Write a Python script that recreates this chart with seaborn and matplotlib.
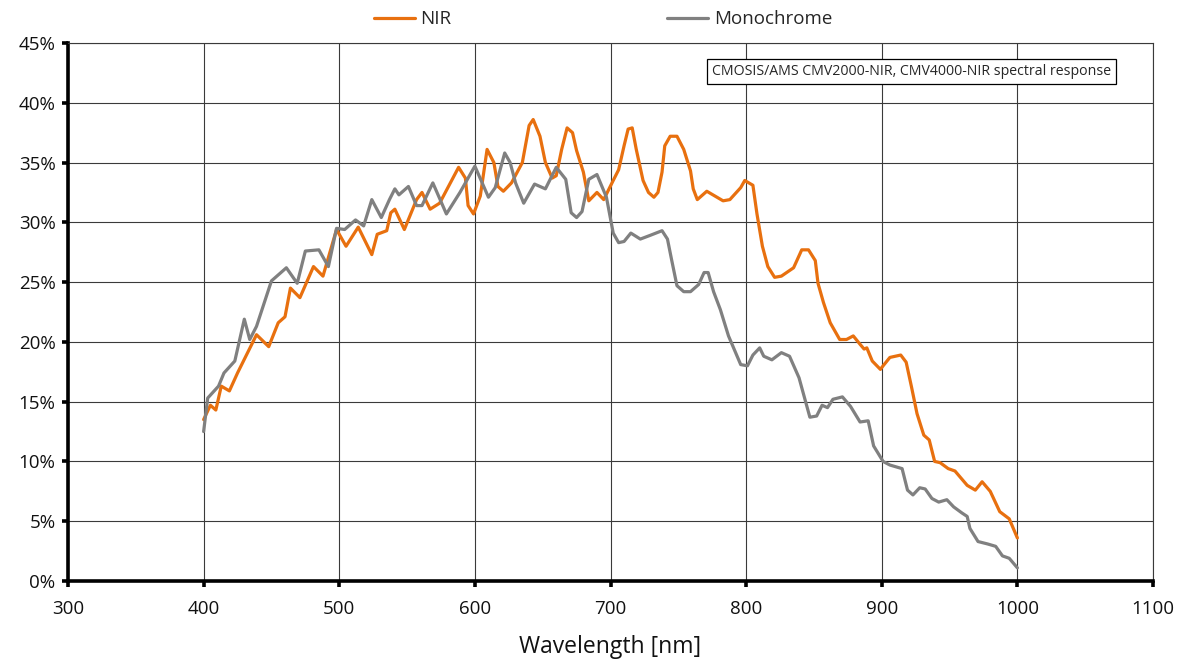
import matplotlib
matplotlib.use("Agg")
import matplotlib.pyplot as plt
import seaborn as sns
import pandas as pd

# ---- data ----
nir_wl = [400, 405, 409, 413, 419, 425, 439, 448, 455, 460, 464, 471, 481, 488, 498, 505, 514, 524, 528, 535,
          538, 541, 548, 557, 561, 567, 574, 588, 593, 595, 599, 604, 609, 614, 617, 621, 627, 635, 640, 643,
          648, 652, 657, 660, 664, 668, 672, 675, 680, 684, 690, 695, 702, 706, 710, 713, 716, 719, 724, 728,
          732, 735, 738, 740, 744, 749, 754, 759, 761, 764, 771, 777, 783, 788, 796, 799, 805, 808, 812, 816,
          821, 826, 835, 841, 846, 851, 853, 857, 862, 869, 874, 879, 884, 887, 889, 893, 899, 901, 906, 914,
          918, 922, 926, 931, 935, 939, 943, 949, 954, 963, 969, 974, 980, 987, 994, 1000]
nir_val = [13.5, 14.7, 14.3, 16.3, 15.9, 17.4, 20.6, 19.6, 21.6, 22.1, 24.5, 23.7, 26.3, 25.5, 29.4, 28.0, 29.6, 27.3, 29.0, 29.3,
           30.8, 31.1, 29.4, 31.9, 32.5, 31.1, 31.6, 34.6, 33.7, 31.4, 30.7, 32.2, 36.1, 35.0, 33.0, 32.6, 33.3, 35.0, 38.1, 38.6,
           37.2, 35.0, 33.7, 33.9, 36.1, 37.9, 37.5, 36.0, 34.2, 31.8, 32.5, 31.9, 33.5, 34.4, 36.4, 37.8, 37.9, 36.1, 33.5, 32.5,
           32.1, 32.5, 34.2, 36.4, 37.2, 37.2, 36.1, 34.3, 32.8, 31.9, 32.6, 32.2, 31.8, 31.9, 32.9, 33.5, 33.1, 30.7, 28.0, 26.3,
           25.4, 25.5, 26.2, 27.7, 27.7, 26.8, 24.9, 23.3, 21.6, 20.2, 20.2, 20.5, 19.8, 19.4, 19.5, 18.4, 17.7, 18.0, 18.7, 18.9,
           18.3, 16.2, 14.0, 12.2, 11.8, 10.0, 9.9, 9.4, 9.2, 8.0, 7.6, 8.3, 7.5, 5.8, 5.2, 3.6]

mono_wl = [400, 403, 411, 415, 423, 430, 434, 439, 450, 461, 469, 475, 485, 492, 498, 504, 512, 518, 524, 531,
           537, 541, 544, 551, 557, 561, 569, 579, 589, 600, 610, 615, 622, 626, 630, 636, 644, 652, 660, 667,
           671, 675, 679, 684, 690, 697, 702, 706, 710, 715, 722, 729, 738, 742, 745, 749, 754, 759, 765, 769,
           772, 776, 781, 787, 796, 801, 805, 810, 813, 819, 826, 832, 839, 847, 852, 856, 860, 864, 871, 877,
           884, 890, 894, 901, 906, 915, 919, 923, 928, 932, 937, 942, 948, 953, 959, 963, 965, 971, 978, 984,
           989, 994, 1000]
mono_val = [12.5, 15.3, 16.3, 17.4, 18.4, 21.9, 20.2, 21.3, 25.1, 26.2, 24.9, 27.6, 27.7, 26.3, 29.5, 29.4, 30.2, 29.7, 31.9, 30.4,
            31.9, 32.8, 32.3, 33.0, 31.4, 31.4, 33.3, 30.7, 32.5, 34.7, 32.1, 32.9, 35.8, 35.0, 33.3, 31.6, 33.2, 32.8, 34.6, 33.6,
            30.8, 30.4, 30.9, 33.6, 34.0, 32.1, 29.1, 28.3, 28.4, 29.1, 28.6, 28.9, 29.3, 28.6, 26.9, 24.7, 24.2, 24.2, 24.8, 25.8,
            25.8, 24.2, 22.7, 20.5, 18.1, 18.0, 18.9, 19.5, 18.8, 18.5, 19.1, 18.8, 17.0, 13.7, 13.8, 14.7, 14.5, 15.2, 15.4, 14.6,
            13.3, 13.4, 11.3, 10.0, 9.7, 9.4, 7.6, 7.2, 7.8, 7.7, 6.9, 6.6, 6.8, 6.2, 5.7, 5.4, 4.4, 3.3, 3.1, 2.9,
            2.1, 1.9, 1.1]

series_names = ["NIR", "Monochrome"]
x_ticks = [300, 400, 500, 600, 700, 800, 900, 1000, 1100]
y_ticks = [0, 5, 10, 15, 20, 25, 30, 35, 40, 45]
x_label = "Wavelength [nm]"
note_text = "CMOSIS/AMS CMV2000-NIR, CMV4000-NIR spectral response"

df = pd.concat([
    pd.DataFrame({"wl": nir_wl, "val": nir_val, "series": series_names[0]}),
    pd.DataFrame({"wl": mono_wl, "val": mono_val, "series": series_names[1]}),
], ignore_index=True)

sns.set_theme(style="white")
plt.rcParams["font.family"] = ["Open Sans", "DejaVu Sans"]

fig = plt.figure(figsize=(11.87, 6.59), dpi=100)
ax = fig.add_axes([68 / 1187, 1 - 581 / 659, (1153 - 68) / 1187, (581 - 43) / 659])

palette = {"NIR": "#E8700F", "Monochrome": "#808080"}
sns.lineplot(data=df, x="wl", y="val", hue="series", palette=palette, estimator=None,
             sort=False, linewidth=2.3, ax=ax, legend=True,
             solid_joinstyle="round", solid_capstyle="round")

ax.set_xlim(300, 1100)
ax.set_ylim(0, 45)
ax.set_xticks(x_ticks)
ax.set_yticks(y_ticks)
ax.set_xticklabels([str(t) for t in x_ticks], fontsize=13.5, color="#111111")
ax.set_yticklabels([f"{t}%" for t in y_ticks], fontsize=13.5, color="#111111")
ax.set_xlabel(x_label, fontsize=16.5, labelpad=12, color="#111111")
ax.set_ylabel("")

ax.grid(True, color="#3a3a3a", linewidth=0.8)
ax.set_axisbelow(True)
for s in ["top", "right"]:
    ax.spines[s].set_visible(True)
    ax.spines[s].set_color("#3a3a3a")
    ax.spines[s].set_linewidth(0.8)
for s in ["left", "bottom"]:
    ax.spines[s].set_color("black")
    ax.spines[s].set_linewidth(2.6)
ax.tick_params(axis="both", which="both", direction="out", length=4, width=2.6, color="black",
               bottom=True, left=True, pad=5)
ax.tick_params(axis="x", pad=10)

handles, labels = ax.get_legend_handles_labels()
ax.legend_.remove()
fig.legend(handles, labels, loc="center", bbox_to_anchor=(0.508, 0.971), ncol=2, frameon=False,
           fontsize=13.5, handlelength=2.2, handletextpad=0.3, columnspacing=11.5)

ax.text(922, 42.6, note_text, fontsize=10.2, ha="center", va="center",
        bbox=dict(boxstyle="square,pad=0.35", facecolor="white", edgecolor="black", linewidth=0.9))

fig.savefig("out.png", dpi=100)
